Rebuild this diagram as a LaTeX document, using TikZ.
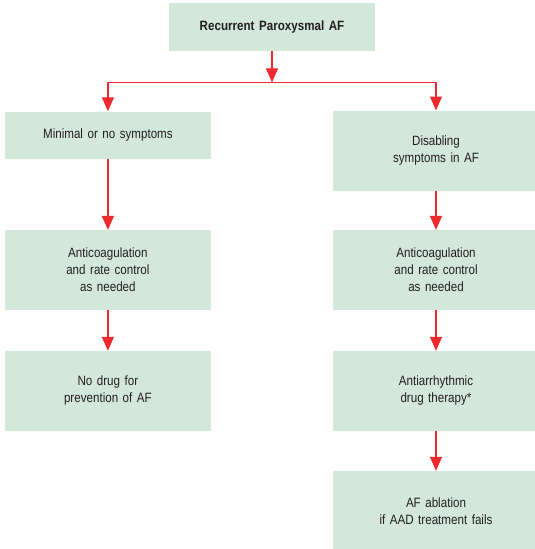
\documentclass[tikz,border=0pt]{standalone}
\usepackage{fontspec}
\setmainfont{Liberation Sans}[FakeStretch=0.86]
\usetikzlibrary{calc}
\usetikzlibrary{arrows.meta}
\definecolor{boxgreen}{HTML}{D3E8DA}
\definecolor{arrred}{HTML}{EE2A2E}
\definecolor{txt}{HTML}{231F20}

\begin{document}
\begin{tikzpicture}[x=1pt,y=-1pt,
  box/.style={fill=boxgreen,inner sep=0pt,minimum width=205.5pt,text width=190pt,align=center,
    text=txt,font=\fontsize{13.5}{17}\selectfont},
  arr/.style={draw=arrred,line width=1.3pt,-{Triangle[length=14pt,width=12pt]}}]
\useasboundingbox (0,0) rectangle (535,549);
\clip (0,0) rectangle (535,549);
\node[box,minimum height=47.7pt,font=\fontsize{13.5}{17}\selectfont\bfseries] (top) at (272, 26.9) {Recurrent Paroxysmal AF};
\node[box,minimum height=47pt] (l1) at (107.9, 135) {Minimal or no symptoms};
\node[box,minimum height=80pt] (r1) at (436, 150.7) {Disabling\\symptoms in AF};
\node[box,minimum height=79.5pt] (l2) at (107.9, 269.8) {Anticoagulation\\and rate control\\as needed};
\node[box,minimum height=79.5pt] (r2) at (436, 269.8) {Anticoagulation\\and rate control\\as needed};
\node[box,minimum height=79.7pt] (l3) at (107.9, 390.9) {No drug for\\prevention of AF};
\node[box,minimum height=79.7pt] (r3) at (436, 390.9) {Antiarrhythmic\\drug therapy*};
\node[box,minimum height=80pt] (r4) at (436, 511) {AF ablation\\if AAD treatment fails};
\coordinate (split) at (272, 82.3);

\draw[arr] (top) -- (split);
\draw[arr] (split) -| (l1);
\draw[arr] (split) -| (r1);
\draw[arr] (l1) -- (l2);
\draw[arr] (l2) -- (l3);
\draw[arr] (r1) -- (r2);
\draw[arr] (r2) -- (r3);
\draw[arr] (r3) -- (r4);
\end{tikzpicture}
\end{document}
